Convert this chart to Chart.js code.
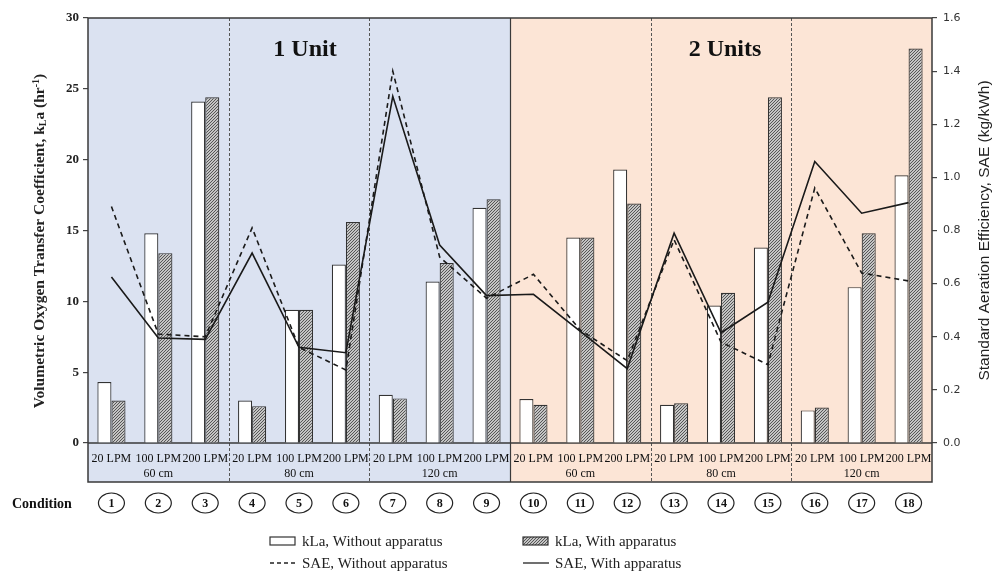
<!DOCTYPE html>
<html>
<head>
<meta charset="utf-8">
<script src="https://cdn.jsdelivr.net/npm/chart.js@4/dist/chart.umd.min.js"></script>
<style>
    html, body { margin: 0; padding: 0; background: #ffffff; }
    #wrap { width: 994px; height: 574px; position: relative; }
</style>
</head>
<body>
<div id="wrap"><canvas id="aeration-chart"></canvas></div>
<script>
// Data
const flowRates = ['20 LPM', '100 LPM', '200 LPM'];
const depths = ['60 cm', '80 cm', '120 cm'];
const unitLabels = ['1 Unit', '2 Units'];
const conditions = ['1', '2', '3', '4', '5', '6', '7', '8', '9', '10', '11', '12', '13', '14', '15', '16', '17', '18'];

// kLa (hr-1), left axis
const klaWithout = [4.3, 14.8, 24.1, 3.0, 9.4, 12.6, 3.4, 11.4, 16.6, 3.1, 14.5, 19.3, 2.7, 9.7, 13.8, 2.3, 11.0, 18.9];
const klaWith = [3.0, 13.4, 24.4, 2.6, 9.4, 15.6, 3.15, 12.7, 17.2, 2.7, 14.5, 16.9, 2.8, 10.6, 24.4, 2.5, 14.8, 27.85];

// SAE (kg/kWh), right axis
const saeWithout = [0.89, 0.41, 0.40, 0.81, 0.36, 0.275, 1.40, 0.70, 0.545, 0.635, 0.425, 0.31, 0.765, 0.38, 0.295, 0.96, 0.64, 0.61];
const saeWith = [0.625, 0.395, 0.39, 0.715, 0.36, 0.34, 1.305, 0.745, 0.555, 0.56, 0.42, 0.28, 0.79, 0.415, 0.53, 1.06, 0.865, 0.905];

const labels = conditions.map((c, i) => {
    const row2 = (i % 3 === 1) ? depths[Math.floor(i / 3) % 3] : '';
    return [flowRates[i % 3], row2];
});

const lineColor = '#3a3a3a';
const blueBg = '#dbe2f1';
const orangeBg = '#fce5d6';
const boxBottom = 482;

// Hatch fill for the "with apparatus" bars
function makeHatch() {
    const c = document.createElement('canvas');
    c.width = 3;
    c.height = 3;
    const g = c.getContext('2d');
    g.fillStyle = '#c4c4c4';
    g.fillRect(0, 0, 3, 3);
    g.strokeStyle = '#4a4a4a';
    g.lineWidth = 0.9;
    g.beginPath();
    g.moveTo(-1, 4); g.lineTo(4, -1);
    g.moveTo(-1, 1); g.lineTo(1, -1);
    g.moveTo(2, 4); g.lineTo(4, 2);
    g.stroke();
    return g.createPattern(c, 'repeat');
}
const hatch = makeHatch();

function drawRotatedTitleLeft(ctx, cx, cy) {
    ctx.save();
    ctx.translate(cx, cy);
    ctx.rotate(-Math.PI / 2);
    ctx.fillStyle = '#222';
    ctx.textBaseline = 'middle';
    const big = 'bold 15.5px "Liberation Serif"';
    const small = 'bold 10px "Liberation Serif"';
    const parts = [
        { t: 'Volumetric Oxygen Transfer Coefficient, k', f: big, dy: 0 },
        { t: 'L', f: small, dy: 3 },
        { t: 'a (hr', f: big, dy: 0 },
        { t: '-1', f: small, dy: -4 },
        { t: ')', f: big, dy: 0 }
    ];
    let total = 0;
    parts.forEach(p => { ctx.font = p.f; p.w = ctx.measureText(p.t).width; total += p.w; });
    let x = -total / 2;
    ctx.textAlign = 'left';
    parts.forEach(p => {
        ctx.font = p.f;
        ctx.fillText(p.t, x, p.dy);
        x += p.w;
    });
    ctx.restore();
}

const decorPlugin = {
    id: 'decor',
    beforeDraw(chart) {
        const ctx = chart.ctx;
        const area = chart.chartArea;
        const xs = chart.scales.x;
        const half = (xs.getPixelForValue(1) - xs.getPixelForValue(0)) / 2;
        const mid = xs.getPixelForValue(8) + half;

        // shaded halves (chart area plus label box)
        ctx.save();
        ctx.fillStyle = blueBg;
        ctx.fillRect(area.left, area.top, mid - area.left, boxBottom - area.top);
        ctx.fillStyle = orangeBg;
        ctx.fillRect(mid, area.top, area.right - mid, boxBottom - area.top);
        ctx.restore();
    },
    beforeDatasetsDraw(chart) {
        const ctx = chart.ctx;
        const area = chart.chartArea;
        const xs = chart.scales.x;
        const half = (xs.getPixelForValue(1) - xs.getPixelForValue(0)) / 2;
        const mid = xs.getPixelForValue(8) + half;

        ctx.save();
        // dashed separators between depth groups
        ctx.strokeStyle = '#555';
        ctx.lineWidth = 1;
        ctx.setLineDash([3, 2]);
        [2, 5, 11, 14].forEach(i => {
            const x = Math.round(xs.getPixelForValue(i) + half) + 0.5;
            ctx.beginPath();
            ctx.moveTo(x, area.top);
            ctx.lineTo(x, boxBottom);
            ctx.stroke();
        });
        ctx.setLineDash([]);

        // solid separator between unit groups
        ctx.strokeStyle = lineColor;
        ctx.lineWidth = 1.2;
        ctx.beginPath();
        ctx.moveTo(Math.round(mid) + 0.5, area.top);
        ctx.lineTo(Math.round(mid) + 0.5, boxBottom);
        ctx.stroke();

        // frame: top, sides down to the label box, x axis, box bottom
        ctx.lineWidth = 1.5;
        ctx.beginPath();
        ctx.moveTo(area.left, area.top);
        ctx.lineTo(area.right, area.top);
        ctx.moveTo(area.left, area.top);
        ctx.lineTo(area.left, boxBottom);
        ctx.lineTo(area.right, boxBottom);
        ctx.lineTo(area.right, area.top);
        ctx.moveTo(area.left, area.bottom);
        ctx.lineTo(area.right, area.bottom);
        ctx.stroke();

        // unit titles
        ctx.fillStyle = '#111';
        ctx.font = 'bold 24px "Liberation Serif"';
        ctx.textAlign = 'center';
        ctx.textBaseline = 'middle';
        ctx.fillText(unitLabels[0], xs.getPixelForValue(4) + 6, 50);
        ctx.fillText(unitLabels[1], xs.getPixelForValue(13) + 4, 50);
        ctx.restore();
    },
    afterDraw(chart) {
        const ctx = chart.ctx;
        const area = chart.chartArea;
        const xs = chart.scales.x;
        ctx.save();

        // axis titles
        drawRotatedTitleLeft(ctx, 40, 241);
        ctx.save();
        ctx.translate(985, (area.top + area.bottom) / 2);
        ctx.rotate(-Math.PI / 2);
        ctx.fillStyle = '#222';
        ctx.font = '15.5px "Liberation Sans"';
        ctx.textAlign = 'center';
        ctx.textBaseline = 'middle';
        ctx.fillText('Standard Aeration Efficiency, SAE (kg/kWh)', 0, 0);
        ctx.restore();

        // condition row
        ctx.fillStyle = '#111';
        ctx.font = 'bold 14px "Liberation Serif"';
        ctx.textAlign = 'left';
        ctx.textBaseline = 'middle';
        ctx.fillText('Condition', 12, 504);
        ctx.strokeStyle = '#222';
        ctx.lineWidth = 1.2;
        ctx.font = 'bold 12px "Liberation Serif"';
        ctx.textAlign = 'center';
        conditions.forEach((c, i) => {
            const x = xs.getPixelForValue(i);
            ctx.beginPath();
            ctx.ellipse(x, 503, 13, 10, 0, 0, Math.PI * 2);
            ctx.stroke();
            ctx.fillText(c, x, 504);
        });

        // legend (2 x 2)
        const ds = chart.data.datasets;
        const cols = [270, 523];
        const rows = [541, 563];
        ctx.font = '15px "Liberation Serif"';
        ctx.textAlign = 'left';
        ctx.fillStyle = '#222';
        const slots = [
            { d: ds[0], col: 0, row: 0, kind: 'box', fill: '#ffffff' },
            { d: ds[1], col: 1, row: 0, kind: 'box', fill: hatch },
            { d: ds[2], col: 0, row: 1, kind: 'line', dash: [4, 3] },
            { d: ds[3], col: 1, row: 1, kind: 'line', dash: [] }
        ];
        slots.forEach(s => {
            const x = cols[s.col];
            const y = rows[s.row];
            if (s.kind === 'box') {
                ctx.fillStyle = s.fill;
                ctx.fillRect(x, y - 4, 25, 8);
                ctx.strokeStyle = '#333';
                ctx.lineWidth = 1.2;
                ctx.strokeRect(x, y - 4, 25, 8);
            } else {
                ctx.strokeStyle = '#222';
                ctx.lineWidth = 1.3;
                ctx.setLineDash(s.dash);
                ctx.beginPath();
                ctx.moveTo(x, y);
                ctx.lineTo(x + 26, y);
                ctx.stroke();
                ctx.setLineDash([]);
            }
            ctx.fillStyle = '#222';
            ctx.fillText(s.d.label, x + 32, y + 1);
        });
        ctx.restore();
    }
};

function initChart() {
    try {
        const ctx = document.getElementById('aeration-chart').getContext('2d');
        new Chart(ctx, {
            type: 'bar',
            data: {
                labels: labels,
                datasets: [
                    {
                        label: 'kLa, Without apparatus',
                        data: klaWithout,
                        yAxisID: 'y',
                        backgroundColor: '#ffffff',
                        borderColor: '#333',
                        borderWidth: 1.2,
                        categoryPercentage: 0.6,
                        barPercentage: 1.0,
                        order: 1
                    },
                    {
                        label: 'kLa, With apparatus',
                        data: klaWith,
                        yAxisID: 'y',
                        backgroundColor: hatch,
                        borderColor: '#333',
                        borderWidth: 1.2,
                        categoryPercentage: 0.6,
                        barPercentage: 1.0,
                        order: 1
                    },
                    {
                        type: 'line',
                        label: 'SAE, Without apparatus',
                        data: saeWithout,
                        yAxisID: 'y1',
                        borderColor: '#1a1a1a',
                        borderWidth: 1.6,
                        borderDash: [5, 4],
                        pointRadius: 0,
                        tension: 0,
                        fill: false,
                        order: 0
                    },
                    {
                        type: 'line',
                        label: 'SAE, With apparatus',
                        data: saeWith,
                        yAxisID: 'y1',
                        borderColor: '#1a1a1a',
                        borderWidth: 1.6,
                        pointRadius: 0,
                        tension: 0,
                        fill: false,
                        order: 0
                    }
                ]
            },
            options: {
                responsive: false,
                animation: false,
                devicePixelRatio: 1,
                layout: { padding: { top: 18, bottom: 0, left: 0, right: 0 } },
                plugins: {
                    legend: { display: false },
                    tooltip: { enabled: false }
                },
                scales: {
                    x: {
                        offset: true,
                        grid: { display: false, drawTicks: false },
                        border: { display: false },
                        ticks: {
                            autoSkip: false,
                            maxRotation: 0,
                            minRotation: 0,
                            padding: 8,
                            color: '#111',
                            font: { family: 'Liberation Serif', size: 12, lineHeight: 1.25 }
                        },
                        afterFit: function(scale) { scale.height = 131; }
                    },
                    y: {
                        position: 'left',
                        min: 0,
                        max: 30,
                        ticks: {
                            stepSize: 5,
                            padding: 4,
                            color: '#222',
                            font: { family: 'Liberation Serif', size: 13, weight: 'bold' }
                        },
                        grid: { drawOnChartArea: false, tickLength: 5, color: '#444', lineWidth: 1.2 },
                        border: { display: false },
                        afterFit: function(scale) { scale.width = 88; }
                    },
                    y1: {
                        position: 'right',
                        min: 0,
                        max: 1.6,
                        ticks: {
                            stepSize: 0.2,
                            padding: 6,
                            color: '#333',
                            font: { family: 'DejaVu Sans', size: 11 },
                            callback: function(value) { return value.toFixed(1); }
                        },
                        grid: { drawOnChartArea: false, tickLength: 5, color: '#444', lineWidth: 1.2 },
                        border: { display: false },
                        afterFit: function(scale) { scale.width = 62; }
                    }
                }
            },
            plugins: [decorPlugin]
        });
    } catch (error) {
        console.error('Error initializing chart:', error);
    }
}

document.getElementById('aeration-chart').width = 994;
document.getElementById('aeration-chart').height = 574;
initChart();
</script>
</body>
</html>
